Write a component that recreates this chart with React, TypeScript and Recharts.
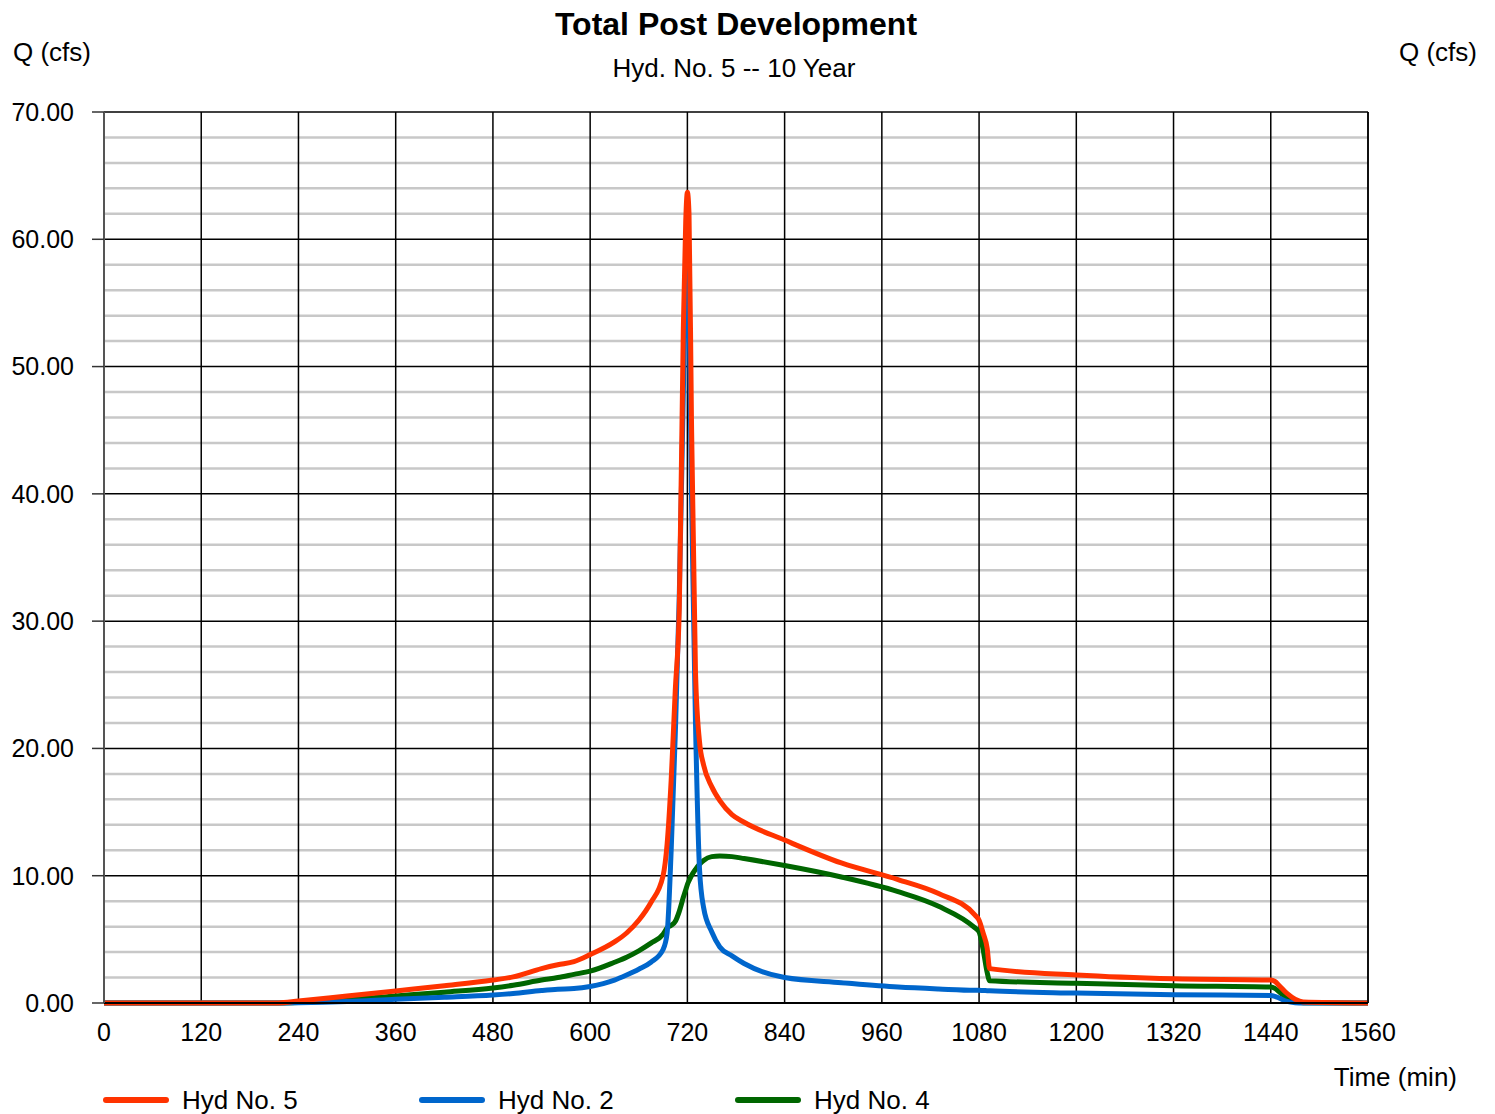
import { LineChart, Line, XAxis, YAxis, CartesianGrid, Legend } from 'recharts'

const TIME = [
  0, 120, 215, 240, 300, 360, 420, 480, 505, 540, 560, 580, 600, 630, 645, 660, 675, 690, 695, 700,
  705, 710, 715, 718, 720, 722, 725, 730, 735, 740, 750, 760, 775, 790, 840, 910, 980, 1030, 1075, 1080, 1085,
  1090, 1093, 1200, 1320, 1440, 1445, 1450, 1460, 1470, 1480, 1560,
]

const HYD5 = [
  0, 0, 0, 0.15, 0.55, 0.95, 1.35, 1.8, 2.05, 2.7, 3.0, 3.25, 3.8, 4.8, 5.5, 6.5, 7.9, 10.0, 12.5, 17.5,
  24.5, 31, 53, 61.5, 63.7, 62, 46, 26, 20.5, 18.7, 17, 15.9, 14.8, 14.2, 12.8, 11.0, 9.7, 8.6, 6.9, 6.5, 5.5,
  4.3, 2.7, 2.2, 1.9, 1.8, 1.7, 1.4, 0.75, 0.3, 0.08, 0,
]

const HYD2 = [
  0, 0, 0, 0.02, 0.12, 0.3, 0.45, 0.63, 0.75, 0.98, 1.08, 1.13, 1.3, 1.8, 2.2, 2.65, 3.2, 4.2, 5.5, 12,
  21, 32, 48, 57, 60, 55, 40, 22, 10.5, 7.5, 5.6, 4.4, 3.7, 3.1, 2.0, 1.6, 1.25, 1.1, 1.0, 1.0, 0.98,
  0.97, 0.96, 0.78, 0.65, 0.58, 0.52, 0.4, 0.12, 0.02, 0, 0,
]

const HYD4 = [
  0, 0, 0, 0.03, 0.25, 0.55, 0.85, 1.18, 1.4, 1.8, 2.0, 2.25, 2.5, 3.2, 3.6, 4.1, 4.7, 5.4, 5.9, 6.1,
  6.4, 7.2, 8.3, 8.9, 9.3, 9.6, 10.0, 10.5, 10.9, 11.2, 11.5, 11.55, 11.5, 11.35, 10.8, 9.9, 8.75, 7.6, 5.9, 5.6, 4.2,
  2.4, 1.75, 1.55, 1.35, 1.25, 1.15, 0.9, 0.4, 0.12, 0.02, 0,
]

const X_TICKS = [0, 120, 240, 360, 480, 600, 720, 840, 960, 1080, 1200, 1320, 1440, 1560]
const Y_TICKS = [0, 10, 20, 30, 40, 50, 60, 70]
const Y_MINOR = [2, 4, 6, 8, 12, 14, 16, 18, 22, 24, 26, 28, 32, 34, 36, 38, 42, 44, 46, 48, 52, 54, 56, 58, 62, 64, 66, 68]

const SERIES = [
  { key: 'hyd5', name: 'Hyd No. 5', color: '#FF3300' },
  { key: 'hyd2', name: 'Hyd No. 2', color: '#0066CC' },
  { key: 'hyd4', name: 'Hyd No. 4', color: '#006600' },
]

const FONT = 'Arial, "Liberation Sans", sans-serif'

const data = TIME.map((t, i) => ({ t, hyd5: HYD5[i], hyd2: HYD2[i], hyd4: HYD4[i] }))

function LegendBox() {
  return (
    <div style={{ position: 'relative', height: 40, fontFamily: FONT }}>
      {SERIES.map((s, i) => (
        <div key={s.key} style={{ position: 'absolute', left: 103 + i * 316, top: 0, display: 'flex', alignItems: 'center' }}>
          <svg width={66} height={10} style={{ display: 'block' }}>
            <line x1={3} y1={5} x2={63} y2={5} stroke={s.color} strokeWidth={6} strokeLinecap="round" />
          </svg>
          <span style={{ marginLeft: 13, fontSize: 26, color: '#000', lineHeight: '30px' }}>{s.name}</span>
        </div>
      ))}
    </div>
  )
}

export default function App() {
  const yFmt = (v: number) => v.toFixed(2)
  return (
    <div style={{ position: 'absolute', left: 0, top: 0, width: 1495, height: 1114, background: '#fff' }}>
      <div style={{ position: 'absolute', left: 0, width: 1472, top: 8, textAlign: 'center', fontFamily: FONT, fontWeight: 'bold', fontSize: 32, lineHeight: '32px' }}>
        Total Post Development
      </div>
      <div style={{ position: 'absolute', left: 0, width: 1468, top: 55, textAlign: 'center', fontFamily: FONT, fontSize: 26, lineHeight: '26px' }}>
        Hyd. No. 5 -- 10 Year
      </div>
      <LineChart width={1495} height={1114} data={data} margin={{ top: 112, right: 0, bottom: 0, left: 0 }} style={{ fontFamily: FONT }}>
        <CartesianGrid horizontalValues={Y_MINOR} vertical={false} stroke="#C8C8C8" strokeWidth={2.5} />
        <CartesianGrid horizontalValues={Y_TICKS} verticalValues={X_TICKS} stroke="#000" strokeWidth={1.5} />
        <XAxis
          dataKey="t"
          type="number"
          domain={[0, 1560]}
          ticks={X_TICKS}
          height={111}
          tickLine={false}
          tickSize={0}
          tickMargin={20}
          axisLine={{ stroke: '#000', strokeWidth: 2 }}
          tick={{ fill: '#000', fontSize: 25 }}
          label={{
            content: ({ viewBox }: any) => (
              <text x={viewBox.x + viewBox.width + 89} y={viewBox.y + 83} textAnchor="end" fontSize={26} fill="#000">
                Time (min)
              </text>
            ),
          }}
        />
        <YAxis
          domain={[0, 70]}
          ticks={Y_TICKS}
          width={104}
          tickSize={12}
          tickMargin={18}
          tickFormatter={yFmt}
          axisLine={{ stroke: '#555', strokeWidth: 2 }}
          tickLine={{ stroke: '#333', strokeWidth: 1.5 }}
          tick={{ fill: '#000', fontSize: 25 }}
          label={{
            content: ({ viewBox }: any) => (
              <text x={viewBox.x + 52} y={viewBox.y - 51} textAnchor="middle" fontSize={26} fill="#000">
                Q (cfs)
              </text>
            ),
          }}
        />
        <YAxis
          yAxisId="right"
          orientation="right"
          domain={[0, 70]}
          ticks={Y_TICKS}
          width={127}
          tickSize={12}
          tickMargin={18}
          tickFormatter={yFmt}
          axisLine={{ stroke: '#000', strokeWidth: 1.5 }}
          tickLine={{ stroke: '#333', strokeWidth: 1.5 }}
          tick={{ fill: '#000', fontSize: 25 }}
          label={{
            content: ({ viewBox }: any) => (
              <text x={viewBox.x + 70} y={viewBox.y - 51} textAnchor="middle" fontSize={26} fill="#000">
                Q (cfs)
              </text>
            ),
          }}
        />
        <Line dataKey="hyd4" name="Hyd No. 4" type="monotone" stroke="#006600" strokeWidth={5} strokeLinejoin="round" dot={false} isAnimationActive={false} />
        <Line dataKey="hyd2" name="Hyd No. 2" type="monotone" stroke="#0066CC" strokeWidth={5} strokeLinejoin="round" dot={false} isAnimationActive={false} />
        <Line dataKey="hyd5" name="Hyd No. 5" type="monotone" stroke="#FF3300" strokeWidth={5} strokeLinejoin="round" dot={false} isAnimationActive={false} />
        <Legend
          layout="horizontal"
          verticalAlign="middle"
          align="center"
          content={() => <LegendBox />}
          wrapperStyle={{ top: 1085, left: 0, width: 1100, height: 40 }}
        />
      </LineChart>
    </div>
  )
}
